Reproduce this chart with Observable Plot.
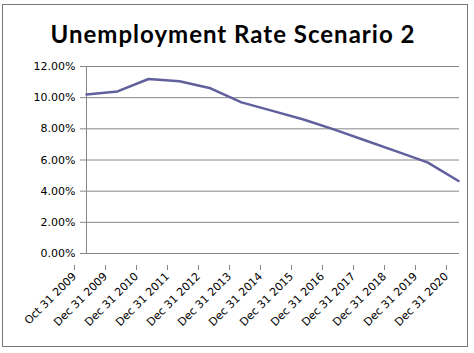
<!DOCTYPE html>
<html>
<head>
<meta charset="utf-8">
<script src="https://cdn.jsdelivr.net/npm/d3@7"></script>
<script src="https://cdn.jsdelivr.net/npm/@observablehq/plot@0.6"></script>
<style>
  html, body { margin: 0; padding: 0; background: #fff; }
  #wrap { position: relative; width: 474px; height: 353px; overflow: hidden; }
  #frame { position: absolute; left: 2px; top: 4px; width: 466px; height: 343px; border: 1px solid #777; box-sizing: border-box; pointer-events: none; }
  #title { position: absolute; left: 0; top: 20px; width: 466px; text-align: center; font-family: Lato, sans-serif; font-weight: 700; font-size: 24px; letter-spacing: 1px; line-height: 28px; color: #000; }
  #chart { position: absolute; left: 0; top: 0; }
</style>
</head>
<body>
<div id="wrap">
  <div id="chart"></div>
  <div id="frame"></div>
  <div id="title">Unemployment Rate Scenario 2</div>
</div>
<script>
const categories = ["Oct 31 2009","Dec 31 2009","Dec 31 2010","Dec 31 2011","Dec 31 2012","Dec 31 2013","Dec 31 2014","Dec 31 2015","Dec 31 2016","Dec 31 2017","Dec 31 2018","Dec 31 2019","Dec 31 2020"];
const rates = [10.2, 10.4, 11.2, 11.05, 10.6, 9.7, 9.15, 8.6, 7.95, 7.25, 6.55, 5.85, 4.65];
const yTicks = [0, 2, 4, 6, 8, 10, 12];

const data = categories.map((c, i) => ({date: c, rate: rates[i]}));

const font = "'DejaVu Sans', Verdana, sans-serif";

const plot = Plot.plot({
  width: 474,
  height: 353,
  marginLeft: 85,
  marginRight: 15,
  marginTop: 66,
  marginBottom: 100,
  style: {fontFamily: font, fontSize: "11px", color: "#000", background: "transparent"},
  x: {type: "point", domain: categories, padding: 0},
  y: {domain: [0, 12]},
  marks: [
    Plot.gridY(yTicks, {stroke: "#868686", strokeOpacity: 1}),
    Plot.ruleX([categories[0]], {y1: 0, y2: 12, stroke: "#868686"}),
    Plot.axisY({ticks: yTicks, tickFormat: d => d.toFixed(2) + "%", tickSize: 5, tickPadding: 5, stroke: "#868686", label: null, fontSize: 11, fontFamily: font, fill: "#000"}),
    Plot.axisX({tickRotate: -45, tickSize: 5, tickPadding: 4, dx: -12, dy: 12, stroke: "#868686", label: null, fontSize: 11, fontFamily: font, fill: "#000"}),
    Plot.line(data, {x: "date", y: "rate", stroke: "#62609c", strokeWidth: 2.5})
  ]
});
document.getElementById("chart").appendChild(plot);
</script>
</body>
</html>
